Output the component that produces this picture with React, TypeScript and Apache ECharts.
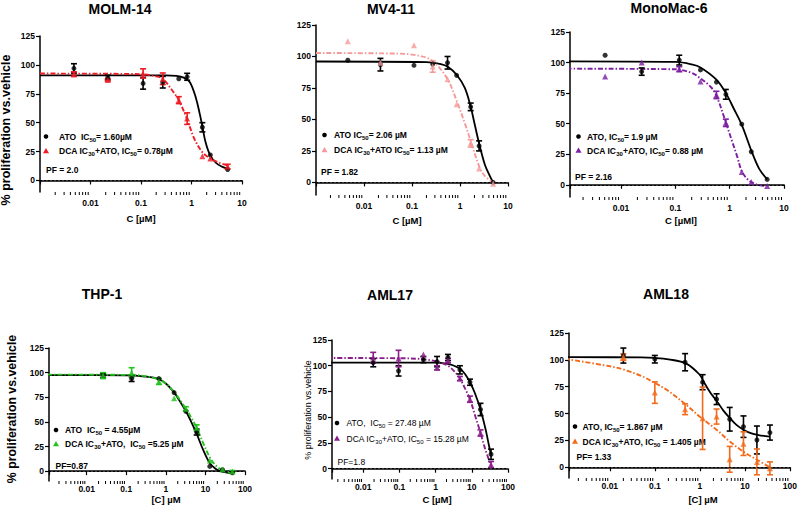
import React, { useEffect, useRef } from "react";
import * as echarts from "echarts";

const FONT = "'Liberation Sans', Arial, Helvetica, sans-serif";

// ---------------- MOLM-14 ----------------
const molmConc = [0.0047, 0.022, 0.11, 0.27, 0.56, 0.82, 1.64, 2.36, 5.2];
const molmAto = [97, 89, 84, 85, 88, 89.7, 46, 22, 9.5];
const molmAtoErr = [4, 2, 5, 5, 0, 3, 4, 0, 0];
const molmDca = [92, 87, 92.6, 88, 69.5, 53.5, 21, 19, 12];
const molmDcaErr = [2, 1, 4, 5, 3, 5, 0, 0, 2];
const molmAtoFit = [[0.001, 91], [0.3, 91], [0.5, 90.5], [0.7, 89], [0.93, 85], [1.23, 71], [1.45, 58], [1.64, 47], [1.9, 33], [2.36, 21.5], [3.1, 15], [4, 12], [5.2, 10]];
const molmDcaFit = [[0.001, 92.5], [0.1, 92], [0.2, 90], [0.27, 88], [0.43, 77], [0.56, 69.5], [0.81, 53.5], [1.14, 36], [1.64, 24.5], [2.36, 19], [3.5, 15.5], [5.2, 13]];

// ---------------- MV4-11 ----------------
const mv4Conc = [0.0046, 0.022, 0.11, 0.27, 0.55, 0.85, 1.67, 2.5, 4.9];
const mv4Ato = [97, 93.5, 93, 94, 95, 85, 60, 29, 0];
const mv4AtoErr = [0, 5, 0, 0, 5, 0, 3, 4, 0];
const mv4Dca = [112, 95, 109, 92, 82, 62, 31, 11, -1];
const mv4DcaErr = [0, 0, 0, 4.5, 0, 0, 3, 0, 0];
const mv4AtoFit = [[0.001, 96], [0.2, 95.5], [0.4, 94], [0.55, 92], [0.85, 85.5], [1.26, 75], [1.67, 60], [2.0, 47], [2.5, 31], [3.3, 14], [4.2, 5], [4.9, 0]];
const mv4DcaFit = [[0.001, 102.8], [0.05, 102.3], [0.1, 101.5], [0.2, 99], [0.3, 95], [0.55, 82], [0.85, 65], [1.26, 47], [1.67, 33], [2.5, 13], [3.3, 5], [4.9, 0]];

// ---------------- MonoMac-6 ----------------
const monoConc = [0.0051, 0.024, 0.118, 0.29, 0.57, 0.85, 1.67, 2.5, 4.9];
const monoAto = [106, 92.6, 102, 94, 84, 74, 49.6, 27, 4.4];
const monoAtoErr = [0, 3, 4, 0, 0, 4, 0, 0, 0];
const monoDca = [88.5, 100, 94.6, 84.4, 73.5, 50.7, 10.4, 2.2, -1];
const monoDcaErr = [0, 0, 2, 0, 3, 3, 0, 0, 0];
const monoAtoFit = [[0.001, 101], [0.1, 100.5], [0.2, 98.5], [0.29, 96], [0.57, 86], [0.85, 75], [1.2, 62], [1.67, 49], [2.5, 28], [3.5, 13], [4.9, 4.5]];
const monoDcaFit = [[0.001, 95], [0.1, 94.5], [0.2, 91.5], [0.29, 87], [0.45, 80], [0.57, 73], [0.85, 51], [1.1, 36], [1.4, 22], [1.67, 11], [2.2, 4], [3, 0.5], [4.5, -1]];

// ---------------- THP-1 ----------------
const thpConc = [0.026, 0.137, 0.67, 1.62, 3.2, 6.0, 12.9, 27, 48];
const thpAto = [97, 94, 94, 79.7, 60.7, 39.7, 4.8, 1.4, -1.7];
const thpAtoErr = [2, 3, 0, 0, 0, 3, 0, 0, 0];
const thpDca = [97, 100, 91, 74, 63.4, 44, 10.8, 1.7, -0.3];
const thpDcaErr = [3, 5, 3, 0, 2, 3, 0, 0, 1];
const thpAtoFit = [[0.001, 97.5], [0.1, 97.2], [0.3, 96], [0.67, 93.5], [1, 89], [1.62, 80], [2.3, 70.5], [3.2, 61], [4.5, 49], [6, 38], [8.9, 21], [12.9, 8], [18, 2.5], [24, 0], [35, -1.5], [48, -2]];
const thpDcaFit = [[0.001, 98], [0.1, 97.7], [0.3, 96.5], [0.67, 93], [1, 89], [1.62, 80.5], [2.3, 72], [3.2, 63.5], [4.5, 53.5], [6, 44], [8.9, 28], [12.9, 14], [18, 6], [27, 1], [38, -1], [48, -1.5]];

// ---------------- AML17 ----------------
const aml17Conc = [0.019, 0.095, 0.46, 1.1, 2.2, 4.7, 8.9, 17.4, 34];
const aml17Ato = [103, 95, 106, 104, 108, 96, 84, 57.5, 14];
const aml17AtoErr = [4, 5, 3, 5, 3, 4, 3, 6, 5];
const aml17Dca = [108, 107, 111, 98, 105, 87.6, 67.5, 34.7, 4];
const aml17DcaErr = [5, 8, 0, 2, 2, 2, 3, 3, 3];
const aml17AtoFit = [[0.001, 103], [1, 103], [2, 102], [3, 100.5], [4.7, 97], [6.5, 92], [8.9, 84], [12, 74], [17.4, 57.5], [24.5, 37], [30, 22], [34, 13]];
const aml17DcaFit = [[0.001, 107.5], [0.1, 107.3], [0.46, 106.3], [1.1, 104], [2.2, 100], [3.3, 94.5], [4.7, 87.6], [6.5, 78], [8.9, 67.5], [12.5, 51], [17.4, 34.7], [24, 18], [34, 3]];

// ---------------- AML18 ----------------
const aml18Conc = [0.02, 0.1, 0.47, 1.15, 2.35, 4.6, 9.3, 18.5, 36];
const aml18Ato = [104, 100.6, 97.8, 79.2, 63.4, 44.7, 37.8, 25.4, 32.3];
const aml18AtoErr = [7, 3.5, 8, 7, 5, 11, 10, 13, 7];
const aml18Dca = [102.6, 69.5, 54, 45.6, 47.2, 7.4, 22, 5, -1];
const aml18DcaErr = [3, 10, 5, 29, 7, 12, 11, 12, 6];
const aml18AtoFit = [[0.001, 102.5], [0.05, 102.3], [0.1, 101.8], [0.2, 100.5], [0.5, 96.5], [1, 86], [1.2, 80], [1.7, 69.5], [2.35, 62], [3.3, 53], [4.6, 46], [6.5, 39.5], [9.3, 35], [14, 31.5], [20, 30], [36, 28.5]];
const aml18DcaFit = [[0.001, 101], [0.01, 94], [0.02, 91], [0.05, 85], [0.1, 78.5], [0.2, 71], [0.5, 58], [1, 47], [2.35, 35], [4.6, 24], [9.3, 14.5], [18.5, 7], [36, 0]];

const yTickValues = [0, 25, 50, 75, 100, 125];

const panels = [
  {
    title: "MOLM-14", titleX: 120, titleY: 9,
    grid: { left: 40, top: 36, width: 202, height: 156 }, xMin: 0.001, xMax: 10, labelMargin: 6,
    color: "#ee1c25",
    conc: molmConc, ato: molmAto, atoErr: molmAtoErr, dca: molmDca, dcaErr: molmDcaErr, atoFit: molmAtoFit, dcaFit: molmDcaFit,
    xName: "C [µM]", xNameX: 141, xNameY: 218,
    yName: { x: 6, y: 130, size: 12.5, bold: true },
    leg: { mx: 46, tx: 59, y1: 136.5, y2: 151, px: 46, py: 170 },
    l1: "ATO  IC{s|50}= 1.60µM", l2: "DCA IC{s|30}+ATO, IC{s|50}= 0.78µM", pf: "PF = 2.0", legBold: true,
  },
  {
    title: "MV4-11", titleX: 391, titleY: 9,
    grid: { left: 316, top: 25, width: 192, height: 170 }, xMin: 0.001, xMax: 10, labelMargin: 6,
    color: "#f59a9a",
    conc: mv4Conc, ato: mv4Ato, atoErr: mv4AtoErr, dca: mv4Dca, dcaErr: mv4DcaErr, atoFit: mv4AtoFit, dcaFit: mv4DcaFit,
    xName: "C [µM]", xNameX: 407, xNameY: 220,
    yName: null,
    leg: { mx: 324.5, tx: 334, y1: 135, y2: 150, px: 321, py: 171.5 },
    l1: "ATO IC{s|50}= 2.06 µM", l2: "DCA IC{s|30}+ATO IC{s|50}= 1.13 µM", pf: "PF = 1.82", legBold: true,
  },
  {
    title: "MonoMac-6", titleX: 669, titleY: 8,
    grid: { left: 570, top: 32, width: 214, height: 165 }, xMin: 0.00115, xMax: 10, labelMargin: 6,
    color: "#7d1fa3",
    conc: monoConc, ato: monoAto, atoErr: monoAtoErr, dca: monoDca, dcaErr: monoDcaErr, atoFit: monoAtoFit, dcaFit: monoDcaFit,
    xName: "C [µMl]", xNameX: 681, xNameY: 220,
    yName: null,
    leg: { mx: 578.5, tx: 587, y1: 136.5, y2: 150.5, px: 575, py: 176.5 },
    l1: "ATO, IC{s|50}= 1.9 µM", l2: "DCA IC{s|30}+ATO, IC{s|50}= 0.88 µM", pf: "PF = 2.16", legBold: true,
  },
  {
    title: "THP-1", titleX: 102, titleY: 294,
    grid: { left: 49, top: 348, width: 196, height: 133 }, xMin: 0.00112, xMax: 100, labelMargin: 3,
    color: "#23c21e",
    conc: thpConc, ato: thpAto, atoErr: thpAtoErr, dca: thpDca, dcaErr: thpDcaErr, atoFit: thpAtoFit, dcaFit: thpDcaFit,
    xName: "[C] µM", xNameX: 166, xNameY: 499.5,
    yName: { x: 12, y: 409, size: 12.3, bold: true },
    leg: { mx: 56, tx: 65, y1: 430, y2: 444, px: 55.5, py: 466 },
    l1: "ATO  IC{s|50} = 4.55µM", l2: "DCA IC{s|30}+ATO,  IC{s|50} =5.25 µM", pf: "PF=0.87", legBold: true,
  },
  {
    title: "AML17", titleX: 390, titleY: 295,
    grid: { left: 332, top: 340, width: 176, height: 139 }, xMin: 0.00138, xMax: 100, labelMargin: 3,
    color: "#8b1e8b",
    conc: aml17Conc, ato: aml17Ato, atoErr: aml17AtoErr, dca: aml17Dca, dcaErr: aml17DcaErr, atoFit: aml17AtoFit, dcaFit: aml17DcaFit,
    xName: "C [µM]", xNameX: 437, xNameY: 499.5,
    yName: { x: 308, y: 410, size: 9, bold: false },
    leg: { mx: 337, tx: 346.5, y1: 423, y2: 438.5, px: 337.5, py: 461.5 },
    l1: "ATO,  IC{s|50} = 27.48 µM", l2: "DCA IC{s|30}+ATO, IC{s|50} = 15.28 µM", pf: "PF=1.8", legBold: false,
  },
  {
    title: "AML18", titleX: 666, titleY: 293.5,
    grid: { left: 569, top: 333, width: 222, height: 145 }, xMin: 0.00124, xMax: 100, labelMargin: 3,
    color: "#f26a1b",
    conc: aml18Conc, ato: aml18Ato, atoErr: aml18AtoErr, dca: aml18Dca, dcaErr: aml18DcaErr, atoFit: aml18AtoFit, dcaFit: aml18DcaFit,
    xName: "[C] µM", xNameX: 703, xNameY: 499.5,
    yName: null,
    leg: { mx: 575, tx: 582.5, y1: 426.5, y2: 441.5, px: 576.5, py: 456.5 },
    l1: "ATO, IC{s|50}= 1.867 µM", l2: "DCA IC{s|30}+ATO, IC{s|50} = 1.405 µM", pf: "PF= 1.33", legBold: true,
  },
];

const fmtX = (v: number) => {
  if (v < 0.005) return "";
  if (v >= 1) return String(Math.round(v));
  return String(Number(v.toPrecision(2)));
};

function minorTicks(min: number, max: number) {
  const out: number[][] = [];
  for (let k = -4; k <= 3; k++) {
    for (let m = 2; m <= 9; m++) {
      const v = m * Math.pow(10, k);
      if (v > min && v < max) out.push([v]);
    }
  }
  return out;
}

function errSeries(color: string, xs: number[], ys: number[], es: number[], i: number) {
  const data = xs
    .map((x, k) => [x, ys[k] - es[k], ys[k] + es[k]])
    .filter((_, k) => es[k] > 0);
  return {
    type: "custom",
    xAxisIndex: i,
    yAxisIndex: i,
    clip: false,
    z: 3,
    encode: { x: 0, y: [1, 2] },
    data,
    renderItem: (params: any, api: any) => {
      const x = api.value(0);
      const top = api.coord([x, api.value(2)]);
      const bot = api.coord([x, api.value(1)]);
      const w = 3;
      const st = { stroke: color, lineWidth: 1.6 };
      return {
        type: "group",
        children: [
          { type: "line", shape: { x1: top[0], y1: top[1], x2: bot[0], y2: bot[1] }, style: st },
          { type: "line", shape: { x1: top[0] - w, y1: top[1], x2: top[0] + w, y2: top[1] }, style: st },
          { type: "line", shape: { x1: bot[0] - w, y1: bot[1], x2: bot[0] + w, y2: bot[1] }, style: st },
        ],
      };
    },
  };
}

function buildOption() {
  const grid: any[] = [];
  const xAxis: any[] = [];
  const yAxis: any[] = [];
  const series: any[] = [];
  const graphic: any[] = [];

  panels.forEach((p, i) => {
    grid.push({ ...p.grid, containLabel: false });
    xAxis.push({
      type: "log",
      logBase: 10,
      gridIndex: i,
      min: p.xMin,
      max: p.xMax,
      axisLine: { show: true, lineStyle: { color: "#000", width: 1.5 } },
      axisTick: { show: true, length: 4, lineStyle: { color: "#000", width: 1.2 } },
      axisLabel: { formatter: fmtX, fontSize: 8.5, fontWeight: "bold", color: "#000", fontFamily: FONT, margin: p.labelMargin },
      splitLine: { show: false },
    });
    yAxis.push({
      type: "value",
      gridIndex: i,
      min: -10,
      max: 125,
      axisLine: { show: true, lineStyle: { color: "#000", width: 1.5 } },
      axisTick: { show: true, length: 4, customValues: yTickValues, lineStyle: { color: "#000", width: 1.2 } },
      axisLabel: { customValues: yTickValues, fontSize: 8.5, fontWeight: "bold", color: "#000", fontFamily: FONT, margin: 5 },
      splitLine: { show: false },
    });

    const dash = [5, 2, 1.5, 2];
    series.push({
      type: "line",
      xAxisIndex: i,
      yAxisIndex: i,
      data: p.atoFit,
      smooth: 0.35,
      showSymbol: false,
      symbol: "none",
      z: 2,
      lineStyle: { color: "#000", width: 1.8 },
      markLine: {
        silent: true,
        symbol: ["none", "none"],
        label: { show: false },
        lineStyle: { color: "#000", width: 1, type: [2, 2] },
        data: [{ yAxis: 0 }],
      },
    });
    series.push({
      type: "line",
      xAxisIndex: i,
      yAxisIndex: i,
      data: p.dcaFit,
      smooth: 0.35,
      showSymbol: false,
      symbol: "none",
      z: 2,
      lineStyle: { color: p.color, width: 1.9, type: dash },
    });
    series.push(errSeries("#000", p.conc, p.ato, p.atoErr, i));
    series.push(errSeries(p.color, p.conc, p.dca, p.dcaErr, i));
    series.push({
      type: "scatter",
      xAxisIndex: i,
      yAxisIndex: i,
      symbol: "circle",
      symbolSize: 5,
      z: 4,
      itemStyle: { color: "#000" },
      data: p.conc.map((x, k) => [x, p.ato[k]]),
    });
    series.push({
      type: "scatter",
      xAxisIndex: i,
      yAxisIndex: i,
      symbol: "triangle",
      symbolSize: 6,
      z: 5,
      itemStyle: { color: p.color },
      data: p.conc.map((x, k) => [x, p.dca[k]]),
    });
    // minor log ticks
    series.push({
      type: "custom",
      xAxisIndex: i,
      yAxisIndex: i,
      clip: false,
      silent: true,
      encode: { x: 0 },
      data: minorTicks(p.xMin, p.xMax),
      renderItem: (params: any, api: any) => {
        const pt = api.coord([api.value(0), -10]);
        return {
          type: "line",
          shape: { x1: pt[0], y1: pt[1], x2: pt[0], y2: pt[1] + 3 },
          style: { stroke: "#000", lineWidth: 1 },
        };
      },
    });

    // title
    graphic.push({
      type: "text",
      x: p.titleX,
      y: p.titleY,
      style: { text: p.title, fontSize: 14, fontWeight: "bold", fontFamily: FONT, fill: "#000", align: "center", verticalAlign: "middle" },
    });
    // x axis name
    graphic.push({
      type: "text",
      x: p.xNameX,
      y: p.xNameY,
      style: { text: p.xName, fontSize: 9.5, fontWeight: "bold", fontFamily: FONT, fill: "#000", align: "center", verticalAlign: "middle" },
    });
    // y axis name
    if (p.yName) {
      graphic.push({
        type: "text",
        x: p.yName.x,
        y: p.yName.y,
        rotation: Math.PI / 2,
        style: {
          text: "% proliferation vs.vehicle",
          fontSize: p.yName.size,
          fontWeight: p.yName.bold ? "bold" : "normal",
          fontFamily: FONT,
          fill: "#000",
          align: "center",
          verticalAlign: "middle",
        },
      });
    }
    // legend
    const L = p.leg;
    const fw = p.legBold ? "bold" : "normal";
    const rich = { s: { fontSize: 6, fontWeight: fw, fontFamily: FONT, fill: "#000", verticalAlign: "bottom", lineHeight: 6 } };
    graphic.push({ type: "circle", shape: { cx: L.mx, cy: L.y1, r: 2.3 }, style: { fill: "#000" } });
    graphic.push({
      type: "polygon",
      shape: { points: [[L.mx, L.y2 - 3], [L.mx + 3, L.y2 + 2.2], [L.mx - 3, L.y2 + 2.2]] },
      style: { fill: p.color },
    });
    graphic.push({
      type: "text",
      x: L.tx,
      y: L.y1,
      style: { text: p.l1, rich, fontSize: 8.5, fontWeight: fw, fontFamily: FONT, fill: "#000", lineHeight: 12, align: "left", verticalAlign: "middle" },
    });
    graphic.push({
      type: "text",
      x: L.tx,
      y: L.y2,
      style: { text: p.l2, rich, fontSize: 8.5, fontWeight: fw, fontFamily: FONT, fill: "#000", lineHeight: 12, align: "left", verticalAlign: "middle" },
    });
    graphic.push({
      type: "text",
      x: L.px,
      y: L.py,
      style: { text: p.pf, fontSize: 8.5, fontWeight: fw, fontFamily: FONT, fill: "#000", align: "left", verticalAlign: "middle" },
    });
  });

  return {
    animation: false,
    backgroundColor: "#fff",
    grid,
    xAxis,
    yAxis,
    series,
    graphic,
  };
}

export default function App() {
  const ref = useRef<HTMLDivElement>(null);
  useEffect(() => {
    if (!ref.current) return;
    const chart = echarts.init(ref.current, null, { renderer: "svg" });
    chart.setOption(buildOption() as any);
    return () => chart.dispose();
  }, []);
  return <div ref={ref} style={{ width: 800, height: 506, position: "fixed", left: 0, top: 0, background: "#fff" }} />;
}
